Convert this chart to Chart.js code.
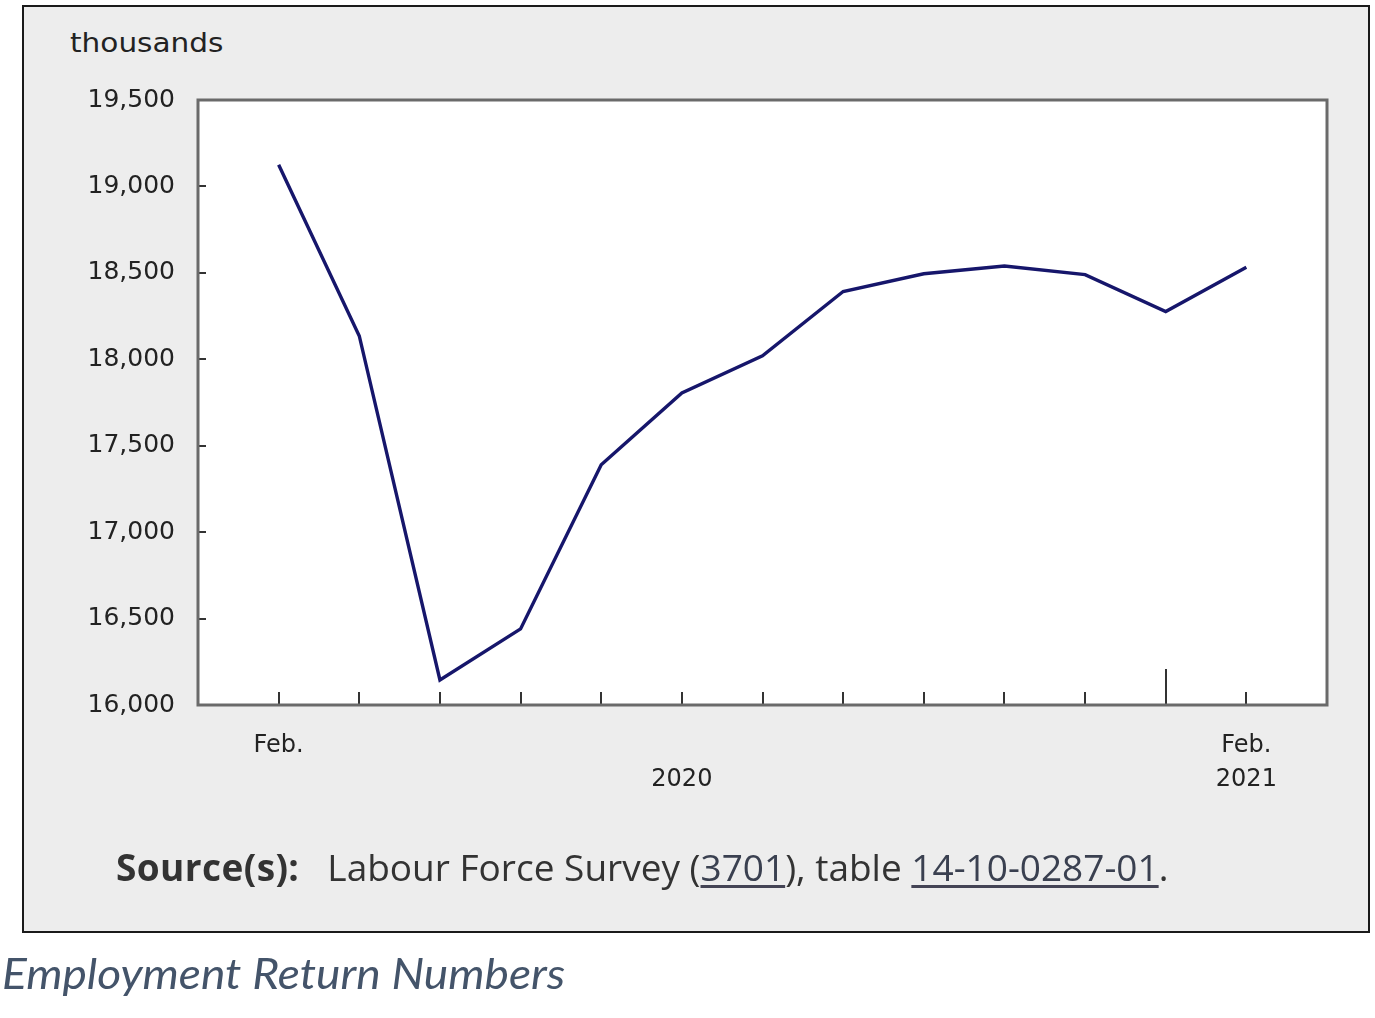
<!DOCTYPE html>
<html>
<head>
<meta charset="utf-8">
<script src="https://cdn.jsdelivr.net/npm/chart.js@4"></script>
<style>
  html, body { margin: 0; padding: 0; background: #ffffff; }
  body { width: 1375px; height: 1018px; position: relative; overflow: hidden; }
  #box { position: absolute; left: 22px; top: 5px; width: 1344px; height: 924px;
         border: 2px solid #1a1a1a; background: #ededed; }
  #wrap { position: absolute; left: 0; top: 0; width: 1375px; height: 1018px; }
  #unit { position: absolute; left: 70px; top: 27px; font-family: "DejaVu Sans", sans-serif;
          font-size: 26.5px; color: #222; transform: scaleX(1.115); transform-origin: 0 0; }
  #source { position: absolute; left: 116px; top: 841px; font-family: "Open Sans", sans-serif;
            font-size: 37px; color: #333; white-space: nowrap; }
  #source b { font-weight: 700; margin-right: 28px; letter-spacing: 0.4px; }
  #source u { text-decoration-color: #445; text-underline-offset: 4px; color: #3a4050; }
  #caption { position: absolute; left: 2px; top: 947px; font-family: Lato, sans-serif;
             font-style: italic; font-size: 43px; color: #44546a; white-space: nowrap;
             transform: scaleX(1.073); transform-origin: 0 0; }
</style>
</head>
<body>
<div id="box"></div>
<div id="unit">thousands</div>
<div id="wrap"><canvas id="c" width="1375" height="1018"></canvas></div>
<div id="source"><b>Source(s):</b>Labour Force Survey (<u>3701</u>), table <u>14-10-0287-01</u>.</div>
<div id="caption">Employment Return Numbers</div>
<script>
// ---- data ----
const months = ['Feb. 2020','Mar. 2020','Apr. 2020','May 2020','Jun. 2020','Jul. 2020','Aug. 2020',
                'Sep. 2020','Oct. 2020','Nov. 2020','Dec. 2020','Jan. 2021','Feb. 2021'];
const employment = [19125, 18135, 16145, 16440, 17390, 17805, 18020, 18392, 18495, 18540, 18490, 18276, 18532];
const xTickLabels = { 0: ['Feb.', ''], 5: ['', '2020'], 12: ['Feb.', '2021'] };
const yMin = 16000, yMax = 19500, yStep = 500;
const yearBoundaryIndex = 11; // January 2021 (long tick)

const points = employment.map((v, i) => ({ x: i, y: v }));

const framePlugin = {
  id: 'frame',
  beforeDatasetsDraw(chart) {
    const { ctx, chartArea: a, scales } = chart;
    ctx.save();
    ctx.fillStyle = '#ffffff';
    ctx.fillRect(a.left, a.top, a.right - a.left, a.bottom - a.top);
    ctx.strokeStyle = '#333333';
    ctx.lineWidth = 2;
    for (let v = yMin; v <= yMax; v += yStep) {
      const y = Math.round(scales.y.getPixelForValue(v));
      ctx.beginPath(); ctx.moveTo(a.left, y); ctx.lineTo(a.left + 8, y); ctx.stroke();
    }
    months.forEach((m, i) => {
      const x = Math.round(scales.x.getPixelForValue(i));
      const len = i === yearBoundaryIndex ? 36 : 13;
      ctx.beginPath(); ctx.moveTo(x, a.bottom); ctx.lineTo(x, a.bottom - len); ctx.stroke();
    });
    ctx.strokeStyle = '#6a6a6a';
    ctx.lineWidth = 3;
    ctx.strokeRect(a.left, a.top, a.right - a.left, a.bottom - a.top);
    ctx.restore();
  }
};

new Chart(document.getElementById('c'), {
  type: 'line',
  data: {
    datasets: [{
      label: 'Employment',
      data: points,
      borderColor: '#16166b',
      borderWidth: 3.4,
      pointRadius: 0,
      tension: 0,
      fill: false
    }]
  },
  options: {
    responsive: false,
    animation: false,
    maintainAspectRatio: false,
    layout: { padding: { left: 0, top: 100, right: 48, bottom: 0 } },
    plugins: { legend: { display: false }, tooltip: { enabled: false } },
    scales: {
      x: {
        type: 'linear', min: -1, max: 13,
        grid: { display: false }, border: { display: false },
        afterFit(s) { s.height = 313; },
        afterBuildTicks(s) { s.ticks = months.map((m, i) => ({ value: i })); },
        ticks: {
          autoSkip: false, maxRotation: 0, padding: 16,
          color: '#222', font: { family: 'DejaVu Sans', size: 24, lineHeight: 1.42 },
          callback: (v) => xTickLabels[v] || ''
        }
      },
      y: {
        min: yMin, max: yMax,
        grid: { display: false }, border: { display: false },
        afterFit(s) { s.width = 198; },
        ticks: {
          stepSize: yStep, padding: 15,
          color: '#222', font: { family: 'DejaVu Sans', size: 25 }
        }
      }
    }
  },
  plugins: [framePlugin]
});
</script>
</body>
</html>
